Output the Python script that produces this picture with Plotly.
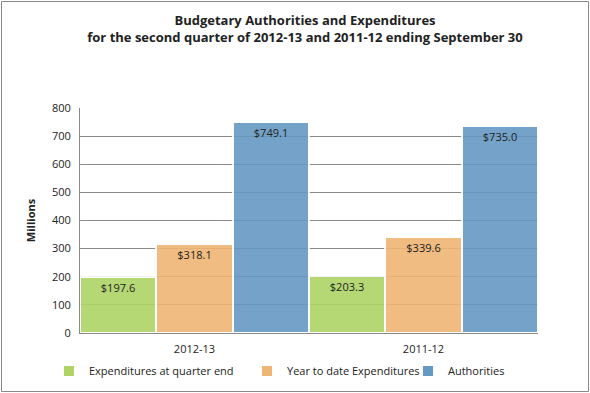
import plotly.graph_objects as go

categories = ["2012-13", "2011-12"]
series_names = ["Expenditures at quarter end", "Year to date Expenditures", "Authorities"]
expenditures_q = [197.6, 203.3]
ytd_expenditures = [318.1, 339.6]
authorities = [749.1, 735.0]
colors = ["#AFD465", "#EFB574", "#6598C3"]
y_ticks = [0, 100, 200, 300, 400, 500, 600, 700, 800]

W, H = 590, 393
L, R, T, B = 80, 52, 108, 60
pw, ph = W - L - R, H - T - B
def px(x): return (x - L) / pw
def py(y): return (H - B - y) / ph

legend_ids = ["legend", "legend2", "legend3"]
legend_x = [49, 247, 408]

fig = go.Figure()
for name, vals, col, lid in zip(series_names, [expenditures_q, ytd_expenditures, authorities], colors, legend_ids):
    fig.add_trace(go.Bar(
        name=name, x=categories, y=vals, legend=lid,
        marker=dict(color=col, opacity=0.9, line=dict(color="white", width=2)),
        text=["$" + format(v, ".1f") for v in vals],
        textposition="inside", insidetextanchor="end",
        textfont=dict(family="Open Sans", size=11, color="#222222"),
        textangle=0,
    ))

fig.add_shape(type="rect", xref="paper", yref="paper",
              x0=px(1.5), x1=px(588.5), y0=py(391.5), y1=py(1.5),
              line=dict(color="#8a8a8a", width=1), layer="above")

legend_common = dict(orientation="h", xanchor="left", yref="container", yanchor="middle",
                     y=1 - 371 / H, font=dict(size=11), itemwidth=30, bgcolor="rgba(0,0,0,0)")
legends = {}
for lid, lx in zip(legend_ids, legend_x):
    legends[lid] = dict(legend_common, x=lx / W, xref="container")

fig.update_layout(
    width=W, height=H,
    margin=dict(l=L, r=R, t=T, b=B, autoexpand=False),
    paper_bgcolor="white", plot_bgcolor="white",
    barmode="group", bargap=0, bargroupgap=0,
    font=dict(family="Open Sans", size=11, color="#222222"),
    title=dict(
        text="<b>Budgetary Authorities and Expenditures</b><br><b>for the second quarter of 2012-13 and 2011-12 ending September 30</b>",
        x=px(305), xref="paper", y=1 - 25 / H, yref="container", xanchor="center", yanchor="middle",
        font=dict(family="Open Sans", size=13, color="#222222"),
    ),
    xaxis=dict(type="category", showline=True, linecolor="#8a8a8a", linewidth=1, ticks="",
               tickfont=dict(size=11), automargin=False, ticklabelstandoff=6),
    yaxis=dict(range=[0, 800], tickvals=y_ticks, showgrid=True, gridcolor="#8a8a8a", gridwidth=1,
               showline=True, linecolor="#8a8a8a", linewidth=1, ticks="", zeroline=False,
               tickfont=dict(size=11), automargin=False, ticklabelstandoff=6,
               title=dict(text="<b>Millions</b>", font=dict(size=11), standoff=14)),
    showlegend=True,
    **legends,
)

fig.write_html("out.html", config={"displayModeBar": False},
               post_script="document.body.style.margin='0';")
